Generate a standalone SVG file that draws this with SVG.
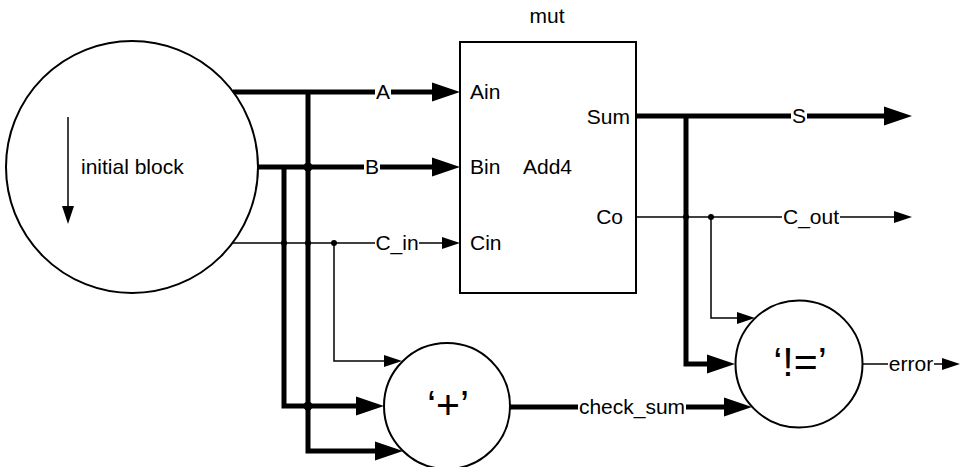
<svg xmlns="http://www.w3.org/2000/svg" width="963" height="467" viewBox="0 0 963 467">
<style>
  text { font-family: "Liberation Sans", Arial, Helvetica, sans-serif; font-size: 21px; fill: #000; }
  .big { font-size: 41px; }
  .shape { fill: #fff; stroke: #000; stroke-width: 2; }
  .thick { fill: none; stroke: #000; stroke-width: 5; }
  .thin { fill: none; stroke: #000; stroke-width: 1.5; }
  .lbg { fill: #fff; stroke: none; }
  .dot { fill: #000; }
</style>
<defs>
  <marker id="ah-thick" markerUnits="userSpaceOnUse" markerWidth="29" markerHeight="20" refX="0" refY="9.5" orient="auto" overflow="visible">
    <path d="M0,0 L28,9.5 L0,19 Z" fill="#000"/>
  </marker>
  <marker id="ah-thin" markerUnits="userSpaceOnUse" markerWidth="19" markerHeight="13" refX="0" refY="6" orient="auto" overflow="visible">
    <path d="M0,0 L18,6 L0,12 Z" fill="#000"/>
  </marker>
</defs>
<rect width="963" height="467" fill="#fff"/>

<g id="connectors">
  <path class="thick" d="M233,92 H432" marker-end="url(#ah-thick)"/>
  <path class="thick" d="M256,167 H432" marker-end="url(#ah-thick)"/>
  <path class="thick" d="M308,92 V451 H375" marker-end="url(#ah-thick)"/>
  <path class="thick" d="M284,167 V406 H356" marker-end="url(#ah-thick)"/>
  <path class="thick" d="M510,407 H724" marker-end="url(#ah-thick)"/>
  <path class="thick" d="M636,116 H884" marker-end="url(#ah-thick)"/>
  <path class="thick" d="M686,116 V364 H707" marker-end="url(#ah-thick)"/>
  <path class="thin" d="M233,243 H442" marker-end="url(#ah-thin)"/>
  <path class="thin" d="M334,243 V361 H384" marker-end="url(#ah-thin)"/>
  <path class="thin" d="M636,217 H894" marker-end="url(#ah-thin)"/>
  <path class="thin" d="M711,217 V318 H737" marker-end="url(#ah-thin)"/>
  <path class="thin" d="M862,364 H942" marker-end="url(#ah-thin)"/>
  <circle class="dot" cx="308" cy="167" r="4.5"/>
  <circle class="dot" cx="308" cy="406" r="4.5"/>
  <circle class="dot" cx="284" cy="243" r="3"/>
  <circle class="dot" cx="308" cy="243" r="3"/>
  <circle class="dot" cx="334" cy="243" r="3"/>
  <circle class="dot" cx="686" cy="217" r="3"/>
  <circle class="dot" cx="711" cy="217" r="3"/>
  <circle class="dot" cx="636" cy="116" r="2.5"/>
  <circle class="dot" cx="510" cy="407" r="2.5"/>
  <rect class="lbg" x="375" y="86" width="16" height="12"/>
  <text x="383" y="99" text-anchor="middle">A</text>
  <rect class="lbg" x="364" y="161" width="16" height="12"/>
  <text x="372" y="174" text-anchor="middle">B</text>
  <rect class="lbg" x="375" y="238" width="44" height="10"/>
  <text x="397" y="250" text-anchor="middle">C_in</text>
  <rect class="lbg" x="578" y="401" width="108" height="12"/>
  <text x="632" y="414" text-anchor="middle">check_sum</text>
  <rect class="lbg" x="791" y="110" width="16" height="12"/>
  <text x="799" y="123" text-anchor="middle">S</text>
  <rect class="lbg" x="782" y="212" width="58" height="10"/>
  <text x="811" y="224" text-anchor="middle">C_out</text>
  <rect class="lbg" x="888" y="359" width="46" height="10"/>
  <text x="911" y="371" text-anchor="middle">error</text>
</g>

<g id="initial-block">
  <circle class="shape" cx="132" cy="167" r="126"/>
  <path class="thin" d="M68,117 V206" marker-end="url(#ah-thin)"/>
  <text x="81" y="174">initial block</text>
</g>

<g id="mut">
  <text x="547" y="23" text-anchor="middle">mut</text>
  <rect class="shape" x="460" y="42" width="176" height="251"/>
  <text x="470" y="99">Ain</text>
  <text x="470" y="174">Bin</text>
  <text x="470" y="250">Cin</text>
  <text x="523" y="174">Add4</text>
  <text x="630" y="124" text-anchor="end">Sum</text>
  <text x="623" y="224" text-anchor="end">Co</text>
</g>

<g id="plus">
  <circle class="shape" cx="447" cy="406" r="63"/>
  <text class="big" x="448" y="419" text-anchor="middle">‘+’</text>
</g>

<g id="neq">
  <circle class="shape" cx="799" cy="364" r="63.5"/>
  <text class="big" x="800" y="376" text-anchor="middle">‘!=’</text>
</g>
</svg>
